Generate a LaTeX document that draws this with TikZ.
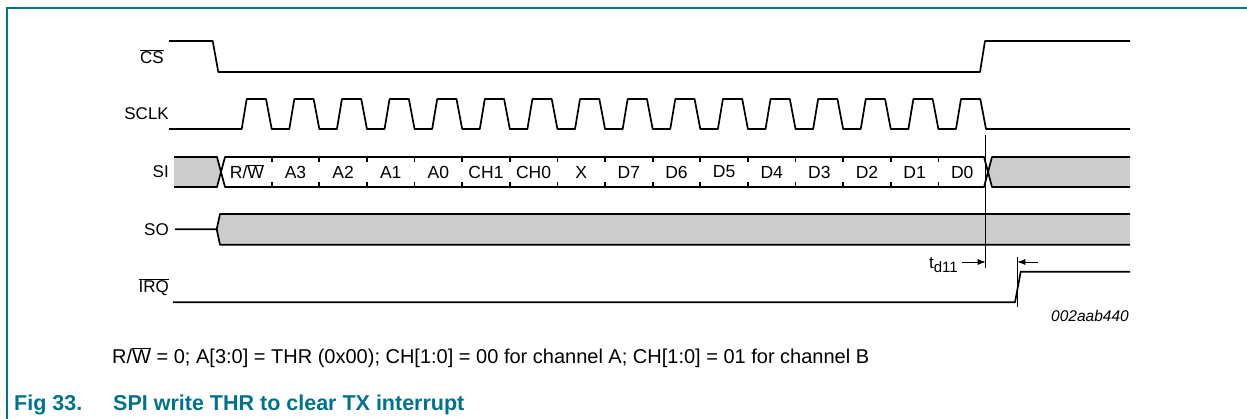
\documentclass[tikz,border=0pt]{standalone}
\usepackage{fontspec}
\setmainfont{Liberation Sans}
\usetikzlibrary{arrows.meta}
\definecolor{nxpteal}{RGB}{0,115,140}
\newcommand{\ovl}[1]{$\overline{\mbox{#1}}$}
\newcommand{\fsz}[1]{\fontsize{#1}{#1}\selectfont}
\begin{document}
\begin{tikzpicture}[x=1pt,y=-1pt,
	sig/.style={line width=1.7pt,line join=round},
	bus/.style={fill=black!20},
	lbl/.style={anchor=east,inner sep=0pt,font=\fsz{17}},
	bit/.style={inner sep=0pt,font=\fsz{17.5}}]
	\useasboundingbox (0,0) rectangle (1247,419);
	\draw[nxpteal,line width=1.5pt] (7,419)--(7,8)--(1247,8);
	\path 
	(985.7,135) coordinate (E1)
	(985.7,268) coordinate (E1b)
	(1017.3,257) coordinate (E2)
	(1017.3,307) coordinate (E2b);
	% signal names
	\foreach \p/\r/\x/\y in {cs/\ovl{CS}/164/56.5,sclk/SCLK/169/114,si/SI/169/172,so/SO/169/229.3,irq/\ovl{IRQ}/169/287}
	\node[lbl] (\p) at (\x,\y) {\r};
	% CS
	\draw[sig] (169,41)--(212.7,41)--(218.3,72)--(980,72)--(985,41)--(1130,41);
	% SCLK
	\draw[sig] (169,129) \foreach \i in {0,...,15}{--({241.7+47.62*\i},129)--({246.7+47.62*\i},99)--({266+47.62*\i},99)--({271.7+47.62*\i},129)}--(1130,129);
	% SI
	\fill[bus] (174,157)--(217,157)--(221,172)--(217,187)--(174,187)--cycle;
	\fill[bus] (988,172)--(992,157)--(1130,157)--(1130,187)--(992,187)--cycle;
	\draw[sig] (174,157)--(217,157)--(225,187)--(984,187)--(992,157)--(1130,157);
	\draw[sig] (174,187)--(217,187)--(225,157)--(984,157)--(992,187)--(1130,187);
	\foreach \i in {0,...,14}
	\draw[line width=1.7pt] ({271.7+47.62*\i},157)--+(0,5) ({271.7+47.62*\i},187)--+(0,-5);
	\node[bit] (rw) at (247,172) {R/\ovl{W}};
	\foreach \t [count=\i from 0] in {A3,A2,A1,A0,CH1,CH0,X,D7,D6,D5,D4,D3,D2,D1,D0}
	\node[bit] (b\i) at ({295.5+47.62*\i},172) {\t};
	% SO
	\fill[bus] (216.7,229.3)--(220,214)--(1130,214)--(1130,244.7)--(220,244.7)--cycle;
	\draw[sig] (175,229.3)--(216.7,229.3)--(220,214)--(1130,214);
	\draw[sig] (216.7,229.3)--(220,244.7)--(1130,244.7);
	% IRQ
	\draw[sig] (173,302.3)--(1015,302.3)--(1020.7,271.7)--(1130,271.7);
	% timing
	\draw[line width=0.8pt] (E1)--(E1b) (E2)--(E2b);
	\node[anchor=east,inner sep=0pt,font=\fsz{17}] (td) at (958,265) {t\raisebox{-4.5pt}{\fsz{15}d11}};
	\draw[line width=0.8pt,-{Latex[length=8pt,width=6pt]}] (td.east|-0,262)++(4,0)--(E1|-0,262);
	\draw[line width=0.8pt,-{Latex[length=8pt,width=6pt]}] (1038,262)--(E2|-0,262);
	\node[font=\itshape\fsz{15.5},inner sep=0pt] (code) at (1090,316) {002aab440};
	% note and caption
	\node[anchor=west,inner sep=0pt,font=\fsz{20}] (note) at (112,358) {R/\ovl{W} = 0; A[3:0] = THR (0x00); CH[1:0] = 00 for channel A; CH[1:0] = 01 for channel B};
	\node[anchor=west,inner sep=0pt,text=nxpteal,font=\bfseries\fsz{21.5}] (fig) at (14,405) {Fig 33.};
	\node[anchor=west,inner sep=0pt,text=nxpteal,font=\bfseries\fsz{21.5}] (title) at (113,405) {SPI write THR to clear TX interrupt};
\end{tikzpicture}
\end{document}
